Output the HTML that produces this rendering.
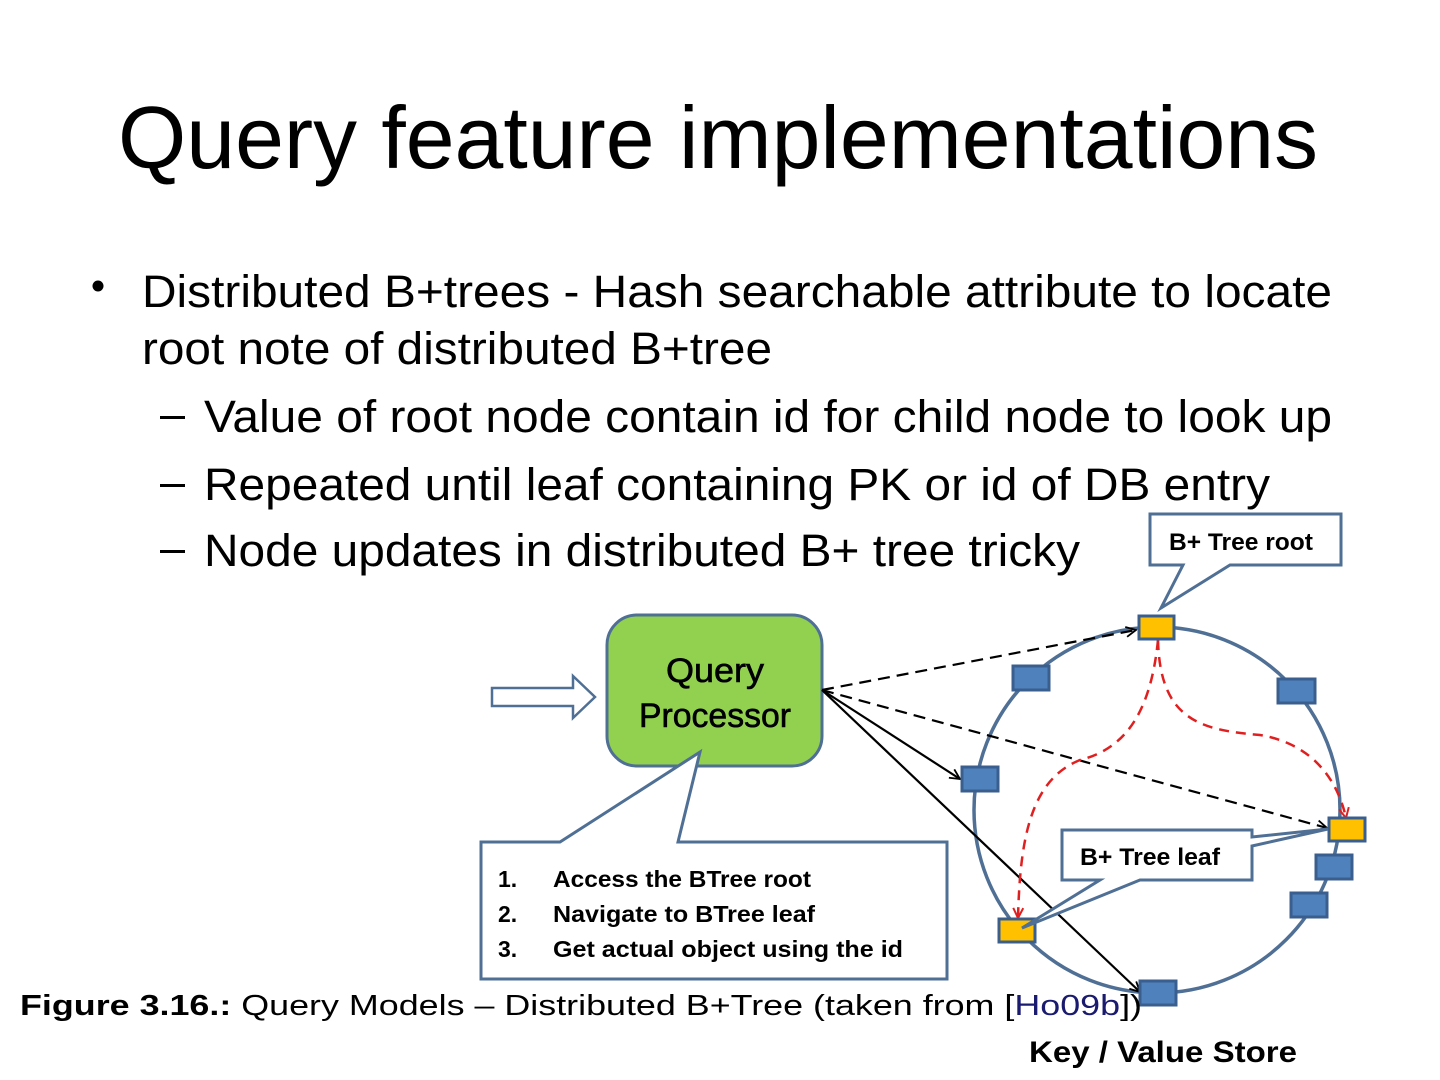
<!DOCTYPE html>
<html><head><meta charset="utf-8"><style>
html,body{margin:0;padding:0;background:#fff;}
svg{display:block;}
text{font-family:"Liberation Sans",sans-serif;}
</style></head><body>
<svg width="1440" height="1080" viewBox="0 0 1440 1080" xmlns="http://www.w3.org/2000/svg">
<defs>
<marker id="ah" viewBox="0 0 12 12" refX="11" refY="6" markerWidth="12" markerHeight="12" markerUnits="userSpaceOnUse" orient="auto"><path d="M1,1 L11,6 L1,11" fill="none" stroke="#000" stroke-width="1.8"/></marker>
<marker id="ahr" viewBox="0 0 12 12" refX="11" refY="6" markerWidth="12" markerHeight="12" markerUnits="userSpaceOnUse" orient="auto"><path d="M1,1 L11,6 L1,11" fill="none" stroke="#e02020" stroke-width="2"/></marker>
</defs>
<text x="118" y="168" font-size="88" textLength="1200" lengthAdjust="spacingAndGlyphs">Query feature implementations</text>
<circle cx="98" cy="286" r="5.5" fill="#000"/>
<g font-size="45">
<text x="142" y="307" textLength="1190" lengthAdjust="spacingAndGlyphs">Distributed B+trees - Hash searchable attribute to locate</text>
<text x="142" y="364" textLength="630" lengthAdjust="spacingAndGlyphs">root note of distributed B+tree</text>
<text x="204" y="432" textLength="1128" lengthAdjust="spacingAndGlyphs">Value of root node contain id for child node to look up</text>
<text x="204" y="500" textLength="1066" lengthAdjust="spacingAndGlyphs">Repeated until leaf containing PK or id of DB entry</text>
<text x="204" y="566" textLength="876" lengthAdjust="spacingAndGlyphs">Node updates in distributed B+ tree tricky</text>
</g>
<rect x="160" y="416" width="25" height="3" fill="#000"/>
<rect x="160" y="484" width="25" height="3" fill="#000"/>
<rect x="160" y="550" width="25" height="3" fill="#000"/>

<ellipse cx="1157" cy="810" rx="183" ry="183" fill="none" stroke="#4f6f95" stroke-width="3.5"/>

<path d="M492,688 L573,688 L573,676 L595,697 L573,718 L573,706 L492,706 Z" fill="#fff" stroke="#4f6f95" stroke-width="2.5"/>

<rect x="607" y="615" width="215" height="151" rx="30" fill="#92d050" stroke="#4f6f95" stroke-width="3"/>
<text x="715" y="682" font-size="34" text-anchor="middle" textLength="98" lengthAdjust="spacingAndGlyphs" stroke="#000" stroke-width="0.6">Query</text>
<text x="715" y="727" font-size="34" text-anchor="middle" textLength="152" lengthAdjust="spacingAndGlyphs" stroke="#000" stroke-width="0.6">Processor</text>

<path d="M481,842 L560,842 L700,752 L678,842 L947,842 L947,979 L481,979 Z" fill="#fff" stroke="#4f6f95" stroke-width="3"/>
<g font-size="23" font-weight="bold">
<text x="498" y="887">1.</text><text x="553" y="887" textLength="258" lengthAdjust="spacingAndGlyphs">Access the BTree root</text>
<text x="498" y="922">2.</text><text x="553" y="922" textLength="262" lengthAdjust="spacingAndGlyphs">Navigate to BTree leaf</text>
<text x="498" y="957">3.</text><text x="553" y="957" textLength="350" lengthAdjust="spacingAndGlyphs">Get actual object using the id</text>
</g>

<g stroke="#000" stroke-width="2.2" fill="none">
<line x1="822" y1="690" x2="1136" y2="630" stroke-dasharray="12,7" marker-end="url(#ah)"/>
<line x1="822" y1="690" x2="1327" y2="828" stroke-dasharray="12,7" marker-end="url(#ah)"/>
<line x1="822" y1="690" x2="960" y2="779" marker-end="url(#ah)"/>
<line x1="822" y1="690" x2="1140" y2="992" marker-end="url(#ah)"/>
</g>
<g stroke="#e02020" stroke-width="2.5" fill="none" stroke-dasharray="10,7">
<path d="M1158,640 C1160,720 1200,730 1260,735 C1320,745 1340,790 1346,818" marker-end="url(#ahr)"/>
<path d="M1158,640 C1150,720 1120,750 1080,760 C1030,780 1020,840 1018,918" marker-end="url(#ahr)"/>
</g>

<g fill="#4f81bd" stroke="#3a5f8f" stroke-width="3">
<rect x="1013" y="666" width="36" height="24"/>
<rect x="1278" y="679" width="37" height="24"/>
<rect x="962" y="767" width="36" height="24"/>
<rect x="1316" y="855" width="36" height="24"/>
<rect x="1291" y="893" width="36" height="24"/>
<rect x="1140" y="981" width="36" height="24"/>
</g>
<g fill="#ffc000" stroke="#3a5f8f" stroke-width="3">
<rect x="1139" y="616" width="35" height="23"/>
<rect x="1329" y="818" width="36" height="23"/>
<rect x="999" y="919" width="36" height="23"/>
</g>

<path d="M1150,514 L1341,514 L1341,565 L1230,565 L1161,608 L1183,565 L1150,565 Z" fill="#fff" stroke="#4f6f95" stroke-width="3"/>
<text x="1169" y="550" font-size="24" font-weight="bold" textLength="144" lengthAdjust="spacingAndGlyphs">B+ Tree root</text>

<path d="M1062,830 L1252,830 L1252,837 L1328,829 L1252,846 L1252,880 L1140,880 L1022,928 L1100,880 L1062,880 Z" fill="#fff" stroke="#4f6f95" stroke-width="3"/>
<text x="1080" y="865" font-size="24" font-weight="bold" textLength="140" lengthAdjust="spacingAndGlyphs">B+ Tree leaf</text>

<text x="20" y="1015" font-size="29" textLength="1122" lengthAdjust="spacingAndGlyphs"><tspan font-weight="bold">Figure 3.16.:</tspan> Query Models – Distributed B+Tree (taken from [<tspan fill="#1a1a6e">Ho09b</tspan>])</text>
<text x="1029" y="1062" font-size="30" font-weight="bold" textLength="268" lengthAdjust="spacingAndGlyphs">Key / Value Store</text>
</svg>
</body></html>
